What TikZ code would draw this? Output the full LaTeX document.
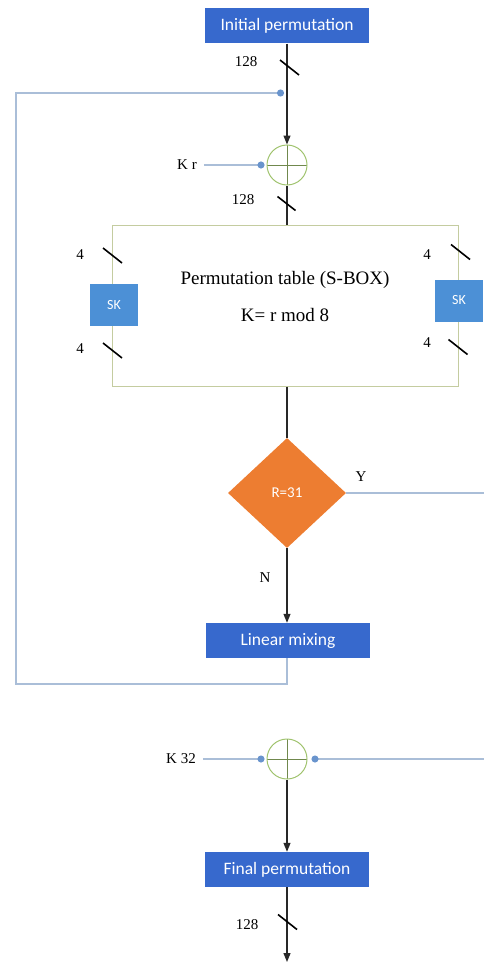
\documentclass[tikz,border=0pt]{standalone}
\usepackage{fontspec}
\setmainfont{Liberation Serif}
\newfontfamily\boxfont{Carlito}
\usetikzlibrary{arrows.meta,shapes.geometric}

\definecolor{boxblue}{RGB}{55,105,205}
\definecolor{skblue}{RGB}{76,144,214}
\definecolor{sboxedge}{RGB}{196,204,160}
\definecolor{xorgreen}{RGB}{160,195,110}
\definecolor{loopline}{RGB}{170,190,216}
\definecolor{dotblue}{RGB}{105,148,205}
\definecolor{decorange}{RGB}{237,125,49}
\definecolor{flowgray}{RGB}{40,40,40}

\tikzset{
  stage/.style={fill=boxblue, text=white, font=\boxfont\fontsize{17.5}{20}\selectfont,
    minimum width=164pt, minimum height=35pt, inner sep=0pt},
  skbox/.style={fill=skblue, text=white, font=\boxfont\fontsize{14}{16}\selectfont,
    minimum width=48pt, minimum height=42pt, inner sep=0pt},
  xor/.style={circle, draw=xorgreen, line width=1pt, minimum size=40pt, inner sep=0pt,
    path picture={\draw[xorgreen!70!black, line width=0.8pt]
      (path picture bounding box.north) -- (path picture bounding box.south)
      (path picture bounding box.west) -- (path picture bounding box.east);}},
  decision/.style={diamond, fill=decorange, text=white, font=\boxfont\fontsize{15}{17}\selectfont,
    minimum width=118pt, minimum height=110pt, inner sep=0pt},
  sboxframe/.style={draw=sboxedge, line width=1pt, minimum width=346pt, minimum height=161pt},
  lbl/.style={font=\fontsize{15}{17}\selectfont, inner sep=1pt},
  biglbl/.style={font=\fontsize{19}{22}\selectfont, inner sep=0pt},
  flow/.style={draw=flowgray, line width=1.2pt},
  flowarrow/.style={flow, -{Triangle[length=9pt,width=7pt]}},
  feedback/.style={draw=loopline, line width=2pt},
  keyline/.style={draw=loopline, line width=1.6pt},
  dotted end/.style={-{Circle[length=7pt,width=7pt,color=dotblue]}},
  slashmark/.style={draw=black, line width=1.6pt},
}

\begin{document}
\begin{tikzpicture}[x=1pt,y=-1pt]
\useasboundingbox (0,0) rectangle (484,963);
\clip (0,0) rectangle (484,963);

% main blocks
\node[stage] (init) at (287,26) {Initial permutation};
\node[xor] (x1) at (287,165) {};
\node[sboxframe] (sbox) at (285,305.5) {};
\node[biglbl] (ptab) at (285,280) {Permutation table (S-BOX)};
\node[biglbl] (kmod) at (285,315) {K= r mod 8};
\node[skbox] (skl) at (114,305) {SK};
\node[skbox] (skr) at (459,300.5) {SK};
\node[decision] (dec) at (287,493) {R=31};
\node[stage] (mix) at (288,640.5) {Linear mixing};
\node[xor] (x2) at (287,759) {};
\node[stage] (fin) at (287,869.5) {Final permutation};

% key inputs
\node[lbl] (kr) at (187,165) {K r};
\node[lbl] (k32) at (181,759) {K 32};

% bus-width labels
\node[lbl] (w1) at (246,62) {128};
\node[lbl] (w2) at (243,200) {128};
\node[lbl] (w3) at (247,925) {128};
\node[lbl] (w4) at (80,255) {4};
\node[lbl] (w5) at (80,349) {4};
\node[lbl] (w6) at (427,255) {4};
\node[lbl] (w7) at (427,343) {4};

% branch labels
\node[lbl] (yes) at (361,477) {Y};
\node[lbl] (no) at (265,578) {N};

% helper points
\coordinate (loopbr) at (287,684);
\coordinate (looptl) at (16,93);
\coordinate (loopin) at (284,93);
\coordinate (yturn) at (500,494);
\coordinate (finalend) at (287,962);

% main data path
\draw[flowarrow] (init.south -| x1) -- (x1.north);
\draw[flow] (x1.south) -- (x1.south |- sbox.north);
\draw[flow] (dec.north |- sbox.south) -- (dec.north);
\draw[flowarrow] (dec.south) -- (dec.south |- mix.north);
\draw[flowarrow] (x2.south) -- (x2.south |- fin.north);
\draw[flowarrow] (fin.south -| x2) -- (finalend);

% feedback loop
\draw[feedback, dotted end] (mix.south -| loopbr) -- (loopbr) -| (looptl) -- (loopin);

% round keys
\draw[keyline, dotted end] (kr.east) ++(6,0) -- ([xshift=-2pt]x1.west);
\draw[keyline, dotted end] (k32.east) ++(6,0) -- ([xshift=-2pt]x2.west);

% last-round branch
\draw[keyline, dotted end] (dec.east) -- (dec.east -| yturn) -- (yturn |- x2) -- ([xshift=4pt]x2.east);

% bus slashes
\draw[slashmark] (289.5,67.5) +(-9.5,-7.5) -- +(9.5,7.5);
\draw[slashmark] (286.5,203.5) +(-9,-7) -- +(9,7);
\draw[slashmark] (287.5,922) +(-9.5,-7.5) -- +(9.5,7.5);
\draw[slashmark] (112.5,255.5) +(-9.5,-7.5) -- +(9.5,7.5);
\draw[slashmark] (112.5,350.5) +(-9.5,-7.5) -- +(9.5,7.5);
\draw[slashmark] (460.5,252) +(-9.5,-7.5) -- +(9.5,7.5);
\draw[slashmark] (458,347) +(-9.5,-7.5) -- +(9.5,7.5);
\end{tikzpicture}
\end{document}
